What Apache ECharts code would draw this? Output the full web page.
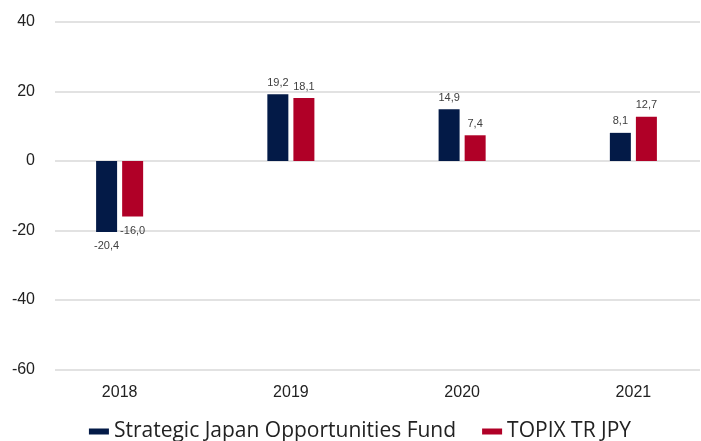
<!DOCTYPE html>
<html>
<head>
    <meta charset="UTF-8">
    <title>Strategic Japan Opportunities Fund vs TOPIX</title>
    <script src="https://cdn.jsdelivr.net/npm/echarts@6/dist/echarts.min.js"></script>
    <style>
        html, body { margin: 0; padding: 0; background: #fff; overflow: hidden; }
        /* chart is a bit wider than the window: the last category band runs past the right edge */
        #chart { width: 720px; height: 441px; }
    </style>
</head>
<body>
    <div id="chart"></div>
    <script>
        // data
        const years = ['2018', '2019', '2020', '2021'];
        const fundName = 'Strategic Japan Opportunities Fund';
        const indexName = 'TOPIX TR JPY';
        const fundValues = [-20.4, 19.2, 14.9, 8.1];
        const indexValues = [-16.0, 18.1, 7.4, 12.7];

        const chart = echarts.init(document.getElementById('chart'));

        const sans = "'Liberation Sans', Arial, sans-serif";
        const fmt = p => p.value.toFixed(1).replace('.', ',');
        const labelCfg = {
            show: true,
            fontFamily: sans,
            fontSize: 11,
            color: '#404040',
            formatter: fmt,
            position: 'top',
            distance: 6
        };
        // negative values get their label under the bar
        const toData = arr => arr.map(v => v < 0
            ? { value: v, label: { position: 'bottom', distance: 9 } }
            : v);

        chart.setOption({
            animation: false,
            legend: {
                top: 416,
                left: 'center',
                itemWidth: 20,
                itemHeight: 6,
                itemGap: 26,
                icon: 'rect',
                textStyle: { fontFamily: "'Open Sans'", fontSize: 21, color: '#222' },
                data: [fundName, indexName]
            },
            // grid 0 carries the y labels and gridlines, grid 1 the bars
            grid: [
                { left: 55, right: 20, top: 22, bottom: 71.5 },
                { left: 34, right: 1, top: 22, bottom: 71.5 }
            ],
            xAxis: [
                { gridIndex: 0, type: 'category', data: years, show: false },
                {
                    gridIndex: 1,
                    type: 'category',
                    data: years,
                    axisLine: { show: false },
                    axisTick: { show: false },
                    axisLabel: { margin: 15, fontFamily: sans, fontSize: 16, color: '#222' }
                }
            ],
            yAxis: [
                {
                    gridIndex: 0,
                    type: 'value',
                    min: -60,
                    max: 40,
                    interval: 20,
                    axisLine: { show: false },
                    axisTick: { show: false },
                    splitLine: { lineStyle: { color: '#d9d9d9', width: 1.5 } },
                    axisLabel: { margin: 20, fontFamily: sans, fontSize: 16, color: '#222' }
                },
                {
                    gridIndex: 1,
                    type: 'value',
                    min: -60,
                    max: 40,
                    interval: 20,
                    show: false,
                    splitLine: { show: false }
                }
            ],
            series: [
                {
                    name: fundName,
                    type: 'bar',
                    xAxisIndex: 1,
                    yAxisIndex: 1,
                    barWidth: 21,
                    barGap: '24%',
                    itemStyle: { color: '#031a47' },
                    label: labelCfg,
                    data: toData(fundValues)
                },
                {
                    name: indexName,
                    type: 'bar',
                    xAxisIndex: 1,
                    yAxisIndex: 1,
                    barWidth: 21,
                    itemStyle: { color: '#b00027' },
                    label: labelCfg,
                    data: toData(indexValues)
                }
            ]
        });
    </script>
</body>
</html>
